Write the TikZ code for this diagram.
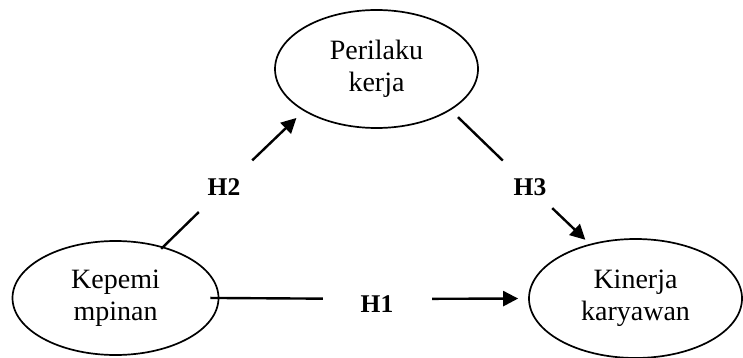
\documentclass[tikz,border=0pt]{standalone}
\usepackage{fontspec}
\setmainfont{Liberation Serif}
\usetikzlibrary{shapes.geometric,arrows.meta}

\tikzset{
  construct/.style={ellipse, draw, line width=1.7pt, inner sep=0pt, align=center,
    font=\fontsize{28}{32}\selectfont},
  hyp/.style={font=\fontsize{25.5}{28}\selectfont\bfseries, inner sep=0pt},
  gap/.style={rectangle, inner sep=0pt, draw=none},
  link/.style={line width=2.4pt},
  tolink/.style={link, -{Triangle[length=15pt,width=15pt]}},
}

\begin{document}
\begin{tikzpicture}[x=1pt,y=-1pt]
  \useasboundingbox (0,0) rectangle (743,358);

  % constructs
  \node[construct, minimum width=206pt, minimum height=114pt] (kep) at (115.5,298) {Kepemi\\mpinan};
  \node[construct, minimum width=203pt, minimum height=118pt] (per) at (376.5,69) {Perilaku\\kerja};
  \node[construct, minimum width=213pt, minimum height=119pt] (kin) at (635.5,298.5) {Kinerja\\karyawan};

  % breaks in the paths where the hypothesis labels sit
  \node[gap, minimum width=53pt, minimum height=53pt] (g2) at (225.5,186) {};
  \node[gap, minimum width=49pt, minimum height=49pt] (g3) at (527.5,184.5) {};
  \node[gap, minimum width=109pt, minimum height=4pt] (g1) at (377.5,299) {};

  % hypothesis labels
  \node[hyp] (h2) at (224,187) {H2};
  \node[hyp] (h3) at (530,187) {H3};
  \node[hyp] (h1) at (377,304) {H1};

  % paths
  \draw[link, shorten <=-3pt] (kep.47) -- (g2);
  \draw[tolink, shorten >=10pt] (g2) -- (per.210);

  \draw[link, shorten <=10pt] (per.331) -- (g3);
  \draw[tolink, shorten >=6pt] (g3) -- (kin.130);

  \draw[link, shorten <=-9pt] (kep.east) -- (g1);
  \draw[tolink, shorten >=10pt] (g1) -- (kin.west);
\end{tikzpicture}
\end{document}
